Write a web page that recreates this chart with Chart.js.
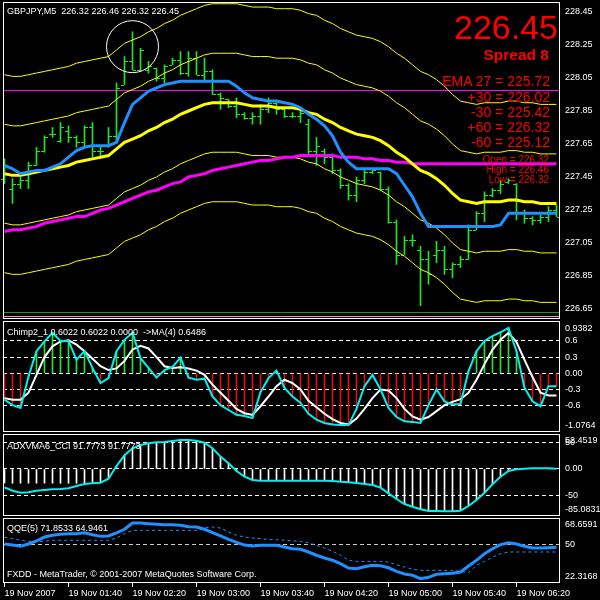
<!DOCTYPE html>
<html>
<head>
<meta charset="utf-8">
<script src="https://cdn.jsdelivr.net/npm/chart.js@4.4.1/dist/chart.umd.min.js"></script>
<style>
    html, body { margin: 0; padding: 0; background: #000; }
    #wrap { position: relative; width: 600px; height: 600px; overflow: hidden; background: #000; }
    #mt { position: absolute; left: 0; top: 0; }
    .lbl { position: absolute; white-space: pre; font-family: "Liberation Sans", Arial, sans-serif; font-size: 9px; line-height: 1; color: #fff; }
    .info { position: absolute; white-space: pre; font-family: "Liberation Sans", Arial, sans-serif; line-height: 1; color: #f00; text-align: right; }
</style>
</head>
<body>
<div id="wrap">
    <canvas id="mt" width="600" height="600"></canvas>

    <div class="lbl" style="left:7px;top:6.5px">GBPJPY,M5  226.32 226.46 226.32 226.45</div>
    <div class="lbl" style="left:7px;top:327.5px">Chimp2_1 0.6022 0.6022 0.0000  -&gt;MA(4) 0.6486</div>
    <div class="lbl" style="left:7px;top:441.5px">ADXVMA6_CCI 91.7773 91.7773</div>
    <div class="lbl" style="left:7px;top:523.5px">QQE(5) 71.8533 64.9461</div>
    <div class="lbl" style="left:7px;top:569.5px">FXDD - MetaTrader, © 2001-2007 MetaQuotes Software Corp.</div>

    <div class="info" style="right:42px;top:10px;font-size:34px">226.45</div>
    <div class="info" style="right:51px;top:46.5px;font-size:15.5px;font-weight:bold">Spread 8</div>
    <div class="info" style="right:50px;top:74px;font-size:14px">EMA 27 = 225.72</div>
    <div class="info" style="right:50px;top:89.5px;font-size:14px">+30 = 226.02</div>
    <div class="info" style="right:50px;top:104.5px;font-size:14px">-30 = 225.42</div>
    <div class="info" style="right:50px;top:119.5px;font-size:14px">+60 = 226.32</div>
    <div class="info" style="right:50px;top:134.5px;font-size:14px">-60 = 225.12</div>
    <div class="info" style="right:51px;top:154.5px;font-size:10px">Open = 226.32</div>
    <div class="info" style="right:51px;top:164.5px;font-size:10px">High = 226.46</div>
    <div class="info" style="right:51px;top:174.5px;font-size:10px">Low = 226.32</div>
</div>

<script>
// ---- time axis (M5 bars, one label every 8 bars) ----
const timeLabels = ["19 Nov 2007", "19 Nov 01:40", "19 Nov 02:20", "19 Nov 03:00", "19 Nov 03:40",
    "19 Nov 04:20", "19 Nov 05:00", "19 Nov 05:40", "19 Nov 06:20"];
const timeTickBars = [0, 8, 16, 24, 32, 40, 48, 56, 64];

// ---- price bars ----
const barOpen = [227.44,227.38,227.41,227.43,227.52,227.61,227.71,227.67,227.73,227.69,
    227.66,227.75,227.61,227.64,227.70,228.01,228.15,228.10,228.10,228.11,
    228.05,228.13,228.16,228.08,228.17,228.07,228.09,227.95,227.92,227.88,
    227.83,227.81,227.82,227.86,227.90,227.86,227.82,227.82,227.77,227.61,
    227.61,227.57,227.49,227.40,227.34,227.43,227.48,227.48,227.38,227.18,
    226.98,227.07,227.01,226.95,226.98,227.01,226.89,226.92,226.95,227.13,
    227.23,227.34,227.37,227.42,227.41,227.24,227.20,227.19,227.21,227.25];
const barHigh = [227.56,227.44,227.45,227.54,227.63,227.70,227.75,227.78,227.76,227.70,
    227.76,227.78,227.63,227.75,228.02,228.18,228.33,228.23,228.15,228.11,
    228.13,228.17,228.21,228.21,228.21,228.17,228.10,227.96,227.92,227.93,
    227.84,227.84,227.89,227.93,227.90,227.87,227.84,227.86,227.80,227.69,
    227.62,227.59,227.50,227.41,227.45,227.49,227.49,227.48,227.39,227.19,
    227.09,227.10,227.03,227.00,227.06,227.03,226.93,226.97,227.16,227.24,
    227.36,227.38,227.43,227.44,227.41,227.25,227.21,227.22,227.27,227.28];
const barLow = [227.41,227.29,227.38,227.38,227.52,227.60,227.69,227.66,227.66,227.63,
    227.63,227.57,227.58,227.63,227.67,228.01,228.10,228.09,228.08,228.03,
    228.02,228.13,228.07,228.06,228.07,228.04,227.95,227.86,227.87,227.81,
    227.80,227.77,227.77,227.84,227.83,227.81,227.81,227.78,227.58,227.52,
    227.53,227.47,227.38,227.31,227.30,227.41,227.47,227.37,227.17,226.92,
    226.98,227.03,226.67,226.80,226.93,226.86,226.84,226.90,226.95,227.13,
    227.18,227.33,227.35,227.41,227.19,227.17,227.16,227.17,227.18,227.21];
const barClose = [227.52,227.41,227.43,227.52,227.61,227.69,227.71,227.75,227.69,227.66,
    227.75,227.61,227.61,227.70,227.99,228.15,228.10,228.22,228.12,228.05,
    228.12,228.16,228.08,228.17,228.07,228.09,227.95,227.93,227.88,227.83,
    227.81,227.82,227.86,227.90,227.86,227.82,227.82,227.84,227.61,227.64,
    227.57,227.49,227.40,227.34,227.43,227.48,227.49,227.38,227.18,226.98,
    227.07,227.07,226.95,226.86,227.01,226.89,226.92,226.95,227.13,227.23,
    227.34,227.37,227.41,227.43,227.24,227.20,227.19,227.21,227.25,227.21];

// ---- main window indicators ----
const ema27 = [227.47,227.46,227.46,227.47,227.48,227.49,227.50,227.51,227.52,227.54,
    227.55,227.56,227.57,227.58,227.62,227.66,227.68,227.70,227.73,227.75,
    227.78,227.80,227.83,227.85,227.87,227.89,227.90,227.90,227.90,227.90,
    227.89,227.88,227.88,227.88,227.87,227.87,227.87,227.86,227.84,227.83,
    227.80,227.78,227.75,227.73,227.71,227.70,227.69,227.67,227.64,227.60,
    227.57,227.53,227.49,227.47,227.44,227.40,227.35,227.31,227.30,227.29,
    227.30,227.30,227.30,227.31,227.31,227.30,227.30,227.29,227.29,227.29];
const bandUp60 = [228.07,228.06,228.06,228.07,228.08,228.09,228.10,228.11,228.12,228.14,
    228.15,228.16,228.17,228.18,228.22,228.26,228.28,228.30,228.33,228.35,
    228.38,228.40,228.43,228.45,228.47,228.49,228.50,228.50,228.50,228.50,
    228.49,228.48,228.48,228.48,228.47,228.47,228.47,228.46,228.44,228.43,
    228.40,228.38,228.35,228.33,228.31,228.30,228.29,228.27,228.24,228.20,
    228.17,228.13,228.09,228.07,228.04,228.00,227.95,227.91,227.90,227.89,
    227.90,227.90,227.90,227.91,227.91,227.90,227.90,227.89,227.89,227.89];
const bandUp30 = [227.77,227.76,227.76,227.77,227.78,227.79,227.80,227.81,227.82,227.84,
    227.85,227.86,227.87,227.88,227.92,227.96,227.98,228.00,228.03,228.05,
    228.08,228.10,228.13,228.15,228.17,228.19,228.20,228.20,228.20,228.20,
    228.19,228.18,228.18,228.18,228.17,228.17,228.17,228.16,228.14,228.13,
    228.10,228.08,228.05,228.03,228.01,228.00,227.99,227.97,227.94,227.90,
    227.87,227.83,227.79,227.77,227.74,227.70,227.65,227.61,227.60,227.59,
    227.60,227.60,227.60,227.61,227.61,227.60,227.60,227.59,227.59,227.59];
const bandDn30 = [227.17,227.16,227.16,227.17,227.18,227.19,227.20,227.21,227.22,227.24,
    227.25,227.26,227.27,227.28,227.32,227.36,227.38,227.40,227.43,227.45,
    227.48,227.50,227.53,227.55,227.57,227.59,227.60,227.60,227.60,227.60,
    227.59,227.58,227.58,227.58,227.57,227.57,227.57,227.56,227.54,227.53,
    227.50,227.48,227.45,227.43,227.41,227.40,227.39,227.37,227.34,227.30,
    227.27,227.23,227.19,227.17,227.14,227.10,227.05,227.01,227.00,226.99,
    227.00,227.00,227.00,227.01,227.01,227.00,227.00,226.99,226.99,226.99];
const bandDn60 = [226.87,226.86,226.86,226.87,226.88,226.89,226.90,226.91,226.92,226.94,
    226.95,226.96,226.97,226.98,227.02,227.06,227.08,227.10,227.13,227.15,
    227.18,227.20,227.23,227.25,227.27,227.29,227.30,227.30,227.30,227.30,
    227.29,227.28,227.28,227.28,227.27,227.27,227.27,227.26,227.24,227.23,
    227.20,227.18,227.15,227.13,227.11,227.10,227.09,227.07,227.04,227.00,
    226.97,226.93,226.89,226.87,226.84,226.80,226.75,226.71,226.70,226.69,
    226.70,226.70,226.70,226.71,226.71,226.70,226.70,226.69,226.69,226.69];
const blueMa = [227.52,227.50,227.47,227.48,227.49,227.49,227.51,227.53,227.57,227.61,
    227.63,227.64,227.64,227.64,227.66,227.78,227.89,227.93,227.97,227.99,
    228.01,228.02,228.03,228.03,228.03,228.03,228.03,228.03,228.03,228.00,
    227.96,227.93,227.92,227.91,227.91,227.90,227.89,227.87,227.83,227.80,
    227.76,227.70,227.60,227.54,227.50,227.50,227.50,227.50,227.50,227.47,
    227.40,227.33,227.23,227.15,227.15,227.15,227.15,227.15,227.15,227.15,
    227.15,227.15,227.16,227.23,227.23,227.23,227.23,227.23,227.23,227.23];
const magentaMa = [227.12,227.13,227.13,227.14,227.15,227.17,227.18,227.19,227.20,227.21,
    227.21,227.23,227.25,227.26,227.28,227.30,227.32,227.34,227.36,227.37,
    227.39,227.41,227.42,227.45,227.46,227.47,227.49,227.50,227.51,227.52,
    227.53,227.54,227.55,227.55,227.56,227.57,227.57,227.58,227.58,227.58,
    227.58,227.58,227.57,227.57,227.57,227.56,227.56,227.55,227.55,227.54,
    227.54,227.53,227.53,227.53,227.53,227.53,227.53,227.53,227.53,227.53,
    227.53,227.53,227.53,227.53,227.53,227.53,227.53,227.53,227.53,227.53];
const levelLines = [
    { price: 227.98, color: "#ff00ff" },
    { price: 226.63, color: "#1f8f1f" },
    { price: 226.61, color: "#ff88cc" },
];
const circleMark = { bar: 16, price: 228.24 };
const priceTicks = [228.45, 228.25, 228.05, 227.85, 227.65, 227.45, 227.25, 227.05, 226.85, 226.65];

// ---- Chimp2 window ----
const chimpMain = [-0.49,-0.59,-0.64,-0.06,0.41,0.59,0.75,0.60,0.60,0.25,
    0.41,0.10,-0.18,-0.09,0.41,0.62,0.75,0.28,0.10,-0.08,
    0.06,0.12,0.29,-0.08,-0.12,-0.10,-0.43,-0.59,-0.68,-0.77,
    -0.79,-0.83,-0.35,-0.09,0.05,-0.27,-0.43,-0.55,-0.75,-0.86,
    -0.92,-0.95,-0.96,-0.96,-0.66,-0.24,-0.03,-0.30,-0.64,-0.81,
    -0.89,-0.90,-0.92,-0.59,-0.30,-0.52,-0.58,-0.57,0.04,0.41,
    0.60,0.69,0.76,0.84,0.41,-0.27,-0.52,-0.61,-0.24,-0.24];
const chimpSignal = [-0.46,-0.49,-0.49,-0.36,-0.03,0.30,0.50,0.59,0.61,0.53,
    0.41,0.27,0.13,0.06,0.09,0.23,0.44,0.51,0.46,0.30,
    0.13,0.10,0.11,0.09,0.05,-0.03,-0.21,-0.36,-0.51,-0.66,
    -0.74,-0.77,-0.61,-0.43,-0.24,-0.12,-0.18,-0.30,-0.51,-0.63,
    -0.75,-0.85,-0.92,-0.95,-0.84,-0.66,-0.46,-0.30,-0.32,-0.46,
    -0.66,-0.80,-0.86,-0.81,-0.70,-0.59,-0.53,-0.48,-0.36,-0.12,
    0.17,0.44,0.62,0.75,0.58,0.25,-0.07,-0.36,-0.41,-0.41];
const chimpTicks = [0.9382, 0.6, 0.3, 0, -0.3, -0.6, -1.0764];
const chimpTickText = ["0.9382", "0.6", "0.3", "0.00", "-0.3", "-0.6", "-1.0764"];
const chimpLevels = [0.6, 0.3, 0, -0.3, -0.6];

// ---- ADXVMA6_CCI window ----
const adxLine = [-34.1,-40.4,-44.1,-43.4,-40.4,-39.1,-37.8,-37.2,-36.0,-31.7,
    -27.9,-26.6,-25.5,-18.1,5.6,25.5,38.5,44.7,47.8,49.7,
    50.3,52.1,54.0,54.0,52.7,49.0,38.5,23.0,10.6,-3.7,
    -14.3,-20.5,-21.7,-21.7,-21.7,-21.7,-21.7,-21.7,-21.7,-21.7,
    -21.7,-22.3,-23.6,-24.8,-26.1,-27.9,-29.8,-34.8,-45.3,-55.9,
    -65.2,-70.2,-75.0,-78.2,-78.2,-78.8,-78.8,-77.6,-68.9,-57.7,
    -44.1,-28.5,-14.3,-3.7,-0.6,0.6,1.2,1.2,1.2,0.6];
const adxHist = [-26.0,-26.6,-26.6,-26.6,-26.6,-26.6,-26.6,-26.6,-26.6,-26.6,
    -26.6,-26.6,-25.5,-18.1,5.6,25.5,38.5,44.7,47.8,49.7,
    50.3,52.1,54.0,54.0,52.7,49.0,38.5,23.0,10.6,-3.7,
    -14.3,-20.5,-20.5,-20.5,-20.5,-20.5,-20.5,-20.5,-20.5,-20.5,
    -20.5,-22.3,-23.6,-24.8,-26.1,-27.9,-29.8,-34.8,-45.3,-55.9,
    -65.2,-70.2,-75.0,-78.2,-78.2,-78.8,-78.8,-77.6,-68.9,-57.7,
    -44.1,-28.5,-14.3,-3.7,-0.6,0.6,1.2,1.2,1.2,0.6];
const adxTicks = [52.4519, 50, 0, -50, -85.0831];
const adxTickText = ["52.4519", "50", "0.00", "-50", "-85.0831"];
const adxLevels = [50, 0, -50];

// ---- QQE window ----
const qqeMain = [50.3,49.5,48.6,50.3,52.5,55.4,56.7,57.4,57.9,57.9,
    58.6,57.1,55.9,56.2,58.4,61.1,65.7,65.7,65.2,64.8,
    64.5,64.5,64.0,63.0,62.8,61.1,58.6,56.2,53.7,51.5,
    49.5,48.8,49.3,49.3,49.3,48.1,46.8,46.4,44.4,42.0,
    40.0,38.3,35.8,32.6,32.1,33.6,34.6,34.3,32.8,30.2,
    28.2,27.3,24.8,25.8,28.0,28.4,28.7,29.7,34.1,38.3,
    43.1,46.8,49.8,51.2,50.3,48.6,47.3,47.3,47.6,47.9];
const qqeSignal = [55.2,54.2,53.0,52.3,52.0,52.3,53.0,53.0,53.0,53.0,
    53.0,53.0,53.0,53.0,54.7,57.9,60.3,60.3,60.3,60.3,
    60.3,60.3,60.3,60.3,60.3,62.3,62.8,62.0,59.1,56.7,
    55.4,54.7,54.2,53.6,53.4,53.1,52.6,52.3,51.2,49.3,
    47.3,44.9,42.0,38.3,37.5,37.5,37.5,37.5,37.0,35.0,
    33.4,31.7,30.9,30.9,30.9,30.9,30.9,30.2,29.2,34.6,
    37.5,40.7,43.1,44.4,44.4,44.4,44.4,44.4,44.4,44.4];
const qqeTicks = [68.6591, 50, 22.3168];
const qqeTickText = ["68.6591", "50", "22.3168"];
const qqeLevels = [50];

// colours
const barGreen = "#22e622";
const font9 = { family: "'Liberation Sans', Arial, sans-serif", size: 9 };

const pts = (arr) => arr.map((v, i) => ({ x: i, y: v }));

function lineSet(arr, axis, color, width, order, extra = {}) {
    return Object.assign({
        type: "line",
        data: pts(arr),
        yAxisID: axis,
        borderColor: color,
        borderWidth: width,
        pointRadius: 0,
        tension: 0,
        fill: false,
        order: order,
    }, extra);
}

// labels must not push the plot area inward
function noEdgePadding(s) {
    s.paddingTop = 0;
    s.paddingBottom = 0;
    s.paddingLeft = 0;
    s.paddingRight = 0;
}

function paneAxis(weight, paneHeight, min, max, ticks, texts, levels, levelColor) {
    return {
        type: "linear",
        position: "right",
        stack: "panes",
        weight: weight,
        stackWeight: paneHeight,
        min: min,
        max: max,
        afterFit: (s) => { s.width = 40; noEdgePadding(s); },
        afterBuildTicks: (s) => { s.ticks = ticks.map((v) => ({ value: v })); },
        ticks: {
            color: "#fff",
            font: font9,
            padding: 5,
            autoSkip: false,
            // like MetaTrader, a label sitting on the window edge is nudged inside
            callback: function (v, i) {
                const text = texts[i];
                const span = this.max - this.min;
                const room = paneHeight * Math.min(this.max - v, v - this.min) / span;
                if (room >= 7) return text;
                return (this.max - v < v - this.min) ? ["", text] : [text, ""];
            },
        },
        grid: {
            display: levels.length > 0,
            drawTicks: false,
            lineWidth: 1,
            color: (c) => (c.tick && levels.includes(c.tick.value) ? levelColor : "rgba(0,0,0,0)"),
        },
        border: { display: false, dash: [4, 3] },
    };
}

// white frames around each window
const paneFrames = {
    id: "paneFrames",
    afterDraw(chart) {
        const { ctx, chartArea: a, scales } = chart;
        const ids = ["yMain", "yChimp", "yAdx", "yQqe"];
        ctx.save();
        ctx.strokeStyle = "#fff";
        ctx.lineWidth = 1;
        ids.forEach((id, k) => {
            const s = scales[id];
            const top = Math.round(s.top) + (k === 0 ? 0.5 : 1.5);
            const bottom = Math.round(s.bottom) - (k === ids.length - 1 ? 0.5 : 1.5);
            ctx.strokeRect(a.left + 0.5, top, a.right - a.left - 1, bottom - top);
        });
        ctx.restore();
    },
};

// horizontal price levels of the main window
const priceLevels = {
    id: "priceLevels",
    beforeDatasetsDraw(chart) {
        const { ctx, chartArea: a, scales } = chart;
        ctx.save();
        ctx.lineWidth = 1;
        levelLines.forEach((l) => {
            const y = Math.round(scales.yMain.getPixelForValue(l.price)) + 0.5;
            ctx.strokeStyle = l.color;
            ctx.beginPath();
            ctx.moveTo(a.left, y);
            ctx.lineTo(a.right, y);
            ctx.stroke();
        });
        ctx.restore();
    },
};

// open / close ticks on the OHLC bars, plus the circle mark
const barTicks = {
    id: "barTicks",
    afterDatasetDraw(chart, args) {
        if (args.index !== 0) return;
        const { ctx, scales } = chart;
        const x = scales.x, y = scales.yMain;
        ctx.save();
        ctx.strokeStyle = barGreen;
        ctx.lineWidth = 1;
        ctx.beginPath();
        barOpen.forEach((o, i) => {
            const px = Math.floor(x.getPixelForValue(i));
            const yo = Math.round(y.getPixelForValue(o)) + 0.5;
            const yc = Math.round(y.getPixelForValue(barClose[i])) + 0.5;
            ctx.moveTo(px - 3, yo);
            ctx.lineTo(px, yo);
            ctx.moveTo(px + 1, yc);
            ctx.lineTo(px + 4, yc);
        });
        ctx.stroke();
        ctx.restore();
    },
    afterDatasetsDraw(chart) {
        const { ctx, scales } = chart;
        const cx = scales.x.getPixelForValue(circleMark.bar);
        const cy = scales.yMain.getPixelForValue(circleMark.price);
        ctx.save();
        ctx.strokeStyle = "#fff";
        ctx.lineWidth = 1;
        ctx.beginPath();
        ctx.arc(cx, cy, 26, 0, Math.PI * 2);
        ctx.stroke();
        ctx.restore();
    },
};

const ctx = document.getElementById("mt").getContext("2d");

new Chart(ctx, {
    type: "line",
    data: {
        datasets: [
            {
                type: "bar",
                data: barLow.map((l, i) => ({ x: i, y: [l, barHigh[i]] })),
                yAxisID: "yMain",
                backgroundColor: barGreen,
                barThickness: 1,
                grouped: false,
                order: 20,
            },
            lineSet(bandUp60, "yMain", "#ffff00", 1, 10),
            lineSet(bandUp30, "yMain", "#ffff00", 1, 10),
            lineSet(bandDn30, "yMain", "#ffff00", 1, 10),
            lineSet(bandDn60, "yMain", "#ffff00", 1, 10),
            lineSet(magentaMa, "yMain", "#ff00ff", 3, 9),
            lineSet(ema27, "yMain", "#ffff00", 3, 8),
            lineSet(blueMa, "yMain", "#1e90ff", 3, 7),

            {
                type: "bar",
                data: pts(chimpMain),
                yAxisID: "yChimp",
                backgroundColor: chimpMain.map((v) => (v >= 0 ? "#32e032" : "#e01010")),
                barThickness: 1,
                grouped: false,
                order: 6,
            },
            lineSet(chimpSignal, "yChimp", "#ffffff", 2, 5),
            lineSet(chimpMain, "yChimp", "#00f0f0", 2, 4),

            {
                type: "bar",
                data: pts(adxHist),
                yAxisID: "yAdx",
                backgroundColor: "#ffffff",
                barThickness: 1,
                grouped: false,
                order: 6,
            },
            lineSet(adxLine, "yAdx", "#00f0f0", 2, 4),

            lineSet(qqeSignal, "yQqe", "#1e90ff", 1, 5, { borderDash: [3, 3] }),
            lineSet(qqeMain, "yQqe", "#1e90ff", 3, 4),
        ],
    },
    options: {
        responsive: false,
        devicePixelRatio: 1,
        animation: false,
        events: [],
        layout: { padding: { top: 2, left: 3, right: 0, bottom: 0 }, autoPadding: false },
        plugins: { legend: { display: false }, tooltip: { enabled: false } },
        scales: {
            x: {
                type: "linear",
                position: "bottom",
                offset: false,
                min: -0.1875,
                max: 69.4375,
                afterFit: (s) => { s.height = 17; noEdgePadding(s); },
                afterBuildTicks: (s) => { s.ticks = timeTickBars.map((v) => ({ value: v })); },
                ticks: {
                    color: "#fff",
                    font: font9,
                    align: "start",
                    padding: 1,
                    maxRotation: 0,
                    autoSkip: false,
                    callback: (v, i) => timeLabels[i],
                },
                grid: { drawOnChartArea: false, drawTicks: true, tickLength: 4, color: "#fff", offset: false },
                border: { display: false },
            },
            yMain: paneAxis(1, 318, 226.5833, 228.5106, priceTicks, priceTicks.map((v) => v.toFixed(2)), [], "#fff"),
            yChimp: paneAxis(2, 113, -1.106, 0.987, chimpTicks, chimpTickText, chimpLevels, "#fff"),
            yAdx: paneAxis(3, 84, -89.4, 67.0, adxTicks, adxTickText, adxLevels, "#fff"),
            yQqe: paneAxis(4, 66, 21.6, 70.13, qqeTicks, qqeTickText, qqeLevels, "#c8c8c8"),
        },
    },
    plugins: [paneFrames, priceLevels, barTicks],
});
</script>
</body>
</html>
